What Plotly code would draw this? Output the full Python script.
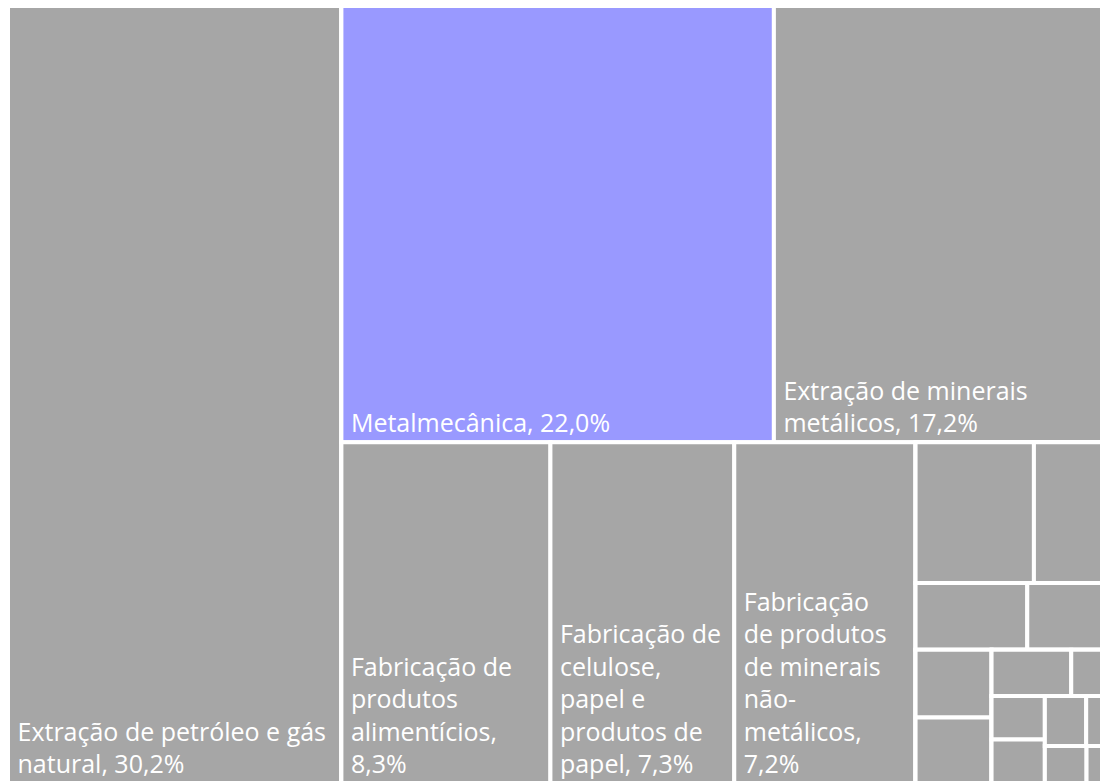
import plotly.graph_objects as go

# setores e participação (%)
setores = [
    "Extração de petróleo e gás natural",
    "Metalmecânica",
    "Extração de minerais metálicos",
    "Fabricação de produtos alimentícios",
    "Fabricação de celulose, papel e produtos de papel",
    "Fabricação de produtos de minerais não-metálicos",
    "Fabricação de produtos químicos",
    "Fabricação de coque e derivados do petróleo",
    "Fabricação de produtos de borracha e de material plástico",
    "Fabricação de bebidas",
    "Fabricação de produtos têxteis",
    "Fabricação de produtos de madeira",
    "Fabricação de produtos farmacêuticos",
    "Confecção de artigos do vestuário",
    "Preparação de couros e calçados",
    "Fabricação de móveis",
    "Impressão e reprodução de gravações",
    "Extração de carvão mineral",
    "Fabricação de produtos do fumo",
    "Fabricação de produtos diversos",
]
participacao = [30.2, 22.0, 17.2, 8.3, 7.3, 7.2,
                1.94, 1.28, 0.87, 0.66, 0.6, 0.58, 0.43, 0.22, 0.27, 0.27, 0.24, 0.15, 0.18, 0.11]

# quebras de linha dos rótulos, como no original
linhas = [
    ["Extração de petróleo e gás", "natural, "],
    ["Metalmecânica, "],
    ["Extração de minerais", "metálicos, "],
    ["Fabricação de", "produtos", "alimentícios,", ""],
    ["Fabricação de", "celulose,", "papel e", "produtos de", "papel, "],
    ["Fabricação", "de produtos", "de minerais", "não-", "metálicos,", ""],
] + [[s + ", "] for s in setores[6:]]
rotulos = ["<br>".join("\u00a0" + l for l in ls) for ls in linhas]

# agrupamento dos blocos (para reproduzir o arranjo do original)
grupo_de = ["", "sup", "sup", "inf", "inf", "inf",
            "ab", "ab", "cd", "cd", "ef", "ef", "gh", "gh", "ij", "ij", "kl", "kl", "mn", "mn"]
grupos = ["dir", "sup", "inf", "outros", "ab", "cd", "baixo", "ef", "r3", "gh", "r4", "ij", "klmn", "kl", "mn"]
grupo_pai = ["", "dir", "dir", "inf", "outros", "outros", "outros", "baixo", "baixo", "r3", "r3", "r4", "r4", "klmn", "klmn"]

destaque = "Metalmecânica"

ids = setores + ["g_" + g for g in grupos]
pais = [("g_" + p if p else "") for p in grupo_de] + [("g_" + p if p else "") for p in grupo_pai]
valores = participacao + [0] * len(grupos)
textos = rotulos + [""] * len(grupos)
modelos = ["%{text}%{value:.1f}%"] * len(setores) + [""] * len(grupos)
cores = ["#9999FF" if s == destaque else "#A6A6A6" for s in setores] + ["#A6A6A6"] * len(grupos)

fig = go.Figure(go.Treemap(
    ids=ids,
    labels=setores + grupos,
    parents=pais,
    values=valores,
    branchvalues="remainder",
    text=textos,
    texttemplate=modelos,
    textposition="bottom left",
    textfont=dict(family="Open Sans", size=25, color="white"),
    marker=dict(colors=cores, line=dict(color="white", width=4),
                pad=dict(t=0, l=0, r=0, b=0)),
    tiling=dict(packing="slice-dice", pad=0),
    pathbar=dict(visible=False),
    hoverinfo="label+value",
    sort=False,
))

fig.update_layout(
    width=1112, height=783,
    margin=dict(l=8, r=0, t=6, b=0),
    separators=",.",
    uniformtext=dict(minsize=24, mode="hide"),
    paper_bgcolor="white",
)

fig.write_html(
    "out.html",
    config={"displayModeBar": False},
    post_script="document.body.style.margin = '0'; "
                "document.body.style.overflow = 'hidden'; "
                "document.documentElement.style.overflow = 'hidden';",
)
